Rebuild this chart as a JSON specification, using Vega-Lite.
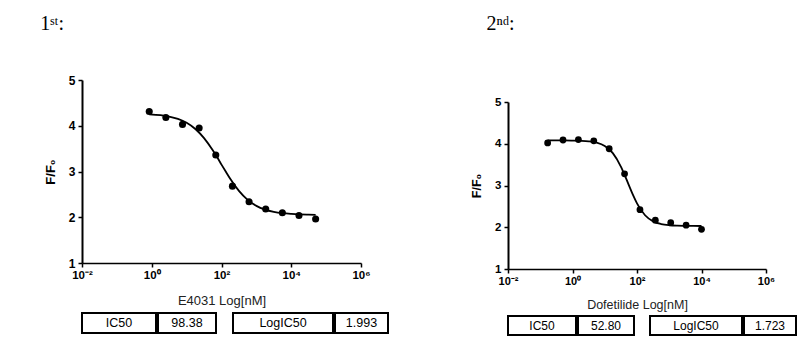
{
  "$schema": "https://vega.github.io/schema/vega-lite/v6.json",
  "padding": {"left": 40, "top": 14, "right": 0, "bottom": 0},
  "background": "white",
  "config": {
    "view": {"stroke": null},
    "font": "Liberation Sans",
    "axis": {
      "grid": false,
      "domainColor": "black",
      "tickColor": "black",
      "labelColor": "black",
      "titleColor": "#222222",
      "labelFont": "Liberation Sans",
      "titleFont": "Liberation Sans",
      "labelFontWeight": "bold",
      "tickSize": 4,
      "labelFlush": false,
      "labelOverlap": false
    }
  },
  "datasets": {
    "e4031_points": [
      {"conc": 0.8468, "ff0": 4.31}, {"conc": 2.540, "ff0": 4.18}, {"conc": 7.621, "ff0": 4.03},
      {"conc": 22.86, "ff0": 3.95}, {"conc": 68.59, "ff0": 3.36}, {"conc": 205.8, "ff0": 2.68},
      {"conc": 617.3, "ff0": 2.34}, {"conc": 1852, "ff0": 2.18}, {"conc": 5556, "ff0": 2.10},
      {"conc": 16667, "ff0": 2.04}, {"conc": 50000, "ff0": 1.96}
    ],
    "e4031_fit": [
      {"conc": 0.8468, "ff0": 4.25}, {"conc": 1.778, "ff0": 4.23}, {"conc": 3.162, "ff0": 4.20},
      {"conc": 5.623, "ff0": 4.15}, {"conc": 10, "ff0": 4.065}, {"conc": 17.78, "ff0": 3.93},
      {"conc": 31.62, "ff0": 3.73}, {"conc": 56.23, "ff0": 3.463}, {"conc": 74.99, "ff0": 3.31},
      {"conc": 100, "ff0": 3.151}, {"conc": 133.4, "ff0": 2.993}, {"conc": 177.8, "ff0": 2.841},
      {"conc": 316.2, "ff0": 2.577}, {"conc": 562.3, "ff0": 2.381}, {"conc": 1000, "ff0": 2.249},
      {"conc": 1778, "ff0": 2.166}, {"conc": 3162, "ff0": 2.117}, {"conc": 5623, "ff0": 2.088},
      {"conc": 10000, "ff0": 2.072}, {"conc": 17783, "ff0": 2.062}, {"conc": 31623, "ff0": 2.057},
      {"conc": 50000, "ff0": 2.054}
    ],
    "dof_points": [
      {"conc": 0.1694, "ff0": 4.02}, {"conc": 0.5081, "ff0": 4.09}, {"conc": 1.524, "ff0": 4.10},
      {"conc": 4.572, "ff0": 4.07}, {"conc": 13.72, "ff0": 3.88}, {"conc": 41.15, "ff0": 3.28},
      {"conc": 123.5, "ff0": 2.42}, {"conc": 370.4, "ff0": 2.17}, {"conc": 1111, "ff0": 2.11},
      {"conc": 3333, "ff0": 2.05}, {"conc": 10000, "ff0": 1.95}
    ],
    "dof_fit": [
      {"conc": 0.1698, "ff0": 4.08}, {"conc": 0.3162, "ff0": 4.079}, {"conc": 0.5623, "ff0": 4.079},
      {"conc": 1, "ff0": 4.076}, {"conc": 1.778, "ff0": 4.071}, {"conc": 3.162, "ff0": 4.058},
      {"conc": 5.623, "ff0": 4.025}, {"conc": 10, "ff0": 3.946}, {"conc": 17.78, "ff0": 3.775},
      {"conc": 31.62, "ff0": 3.454}, {"conc": 42.17, "ff0": 3.238}, {"conc": 56.23, "ff0": 3.004},
      {"conc": 74.99, "ff0": 2.775}, {"conc": 100, "ff0": 2.573}, {"conc": 177.8, "ff0": 2.287},
      {"conc": 316.2, "ff0": 2.141}, {"conc": 562.3, "ff0": 2.076}, {"conc": 1000, "ff0": 2.048},
      {"conc": 1778, "ff0": 2.037}, {"conc": 3162, "ff0": 2.033}, {"conc": 5623, "ff0": 2.031},
      {"conc": 10000, "ff0": 2.030}
    ],
    "ic50": [
      {"drug": "E4031", "param": "IC50", "value": "98.38"},
      {"drug": "E4031", "param": "LogIC50", "value": "1.993"},
      {"drug": "Dofetilide", "param": "IC50", "value": "52.80"},
      {"drug": "Dofetilide", "param": "LogIC50", "value": "1.723"}
    ]
  },
  "hconcat": [
    {
      "title": {"text": "1ˢᵗ:", "anchor": "start", "font": "Liberation Serif", "fontSize": 20, "fontWeight": "normal", "color": "black", "offset": 40, "dx": -4},
      "vconcat": [
        {
          "width": 279,
          "height": 183,
          "layer": [
            {
              "data": {"name": "e4031_fit"},
              "mark": {"type": "line", "color": "black", "strokeWidth": 1.8, "interpolate": "monotone"},
              "encoding": {
                "x": {"field": "conc", "type": "quantitative", "scale": {"type": "log", "domain": [0.01, 1000000]},
                  "axis": {"title": "E4031 Log[nM]", "values": [0.01, 1, 100, 10000, 1000000],
                    "labelExpr": "'10' + (datum.value < 0.1 ? '⁻²' : datum.value < 10 ? '⁰' : datum.value < 1000 ? '²' : datum.value < 100000 ? '⁴' : '⁶')",
                    "labelFontSize": 11.5, "titleFontSize": 13, "titleFontWeight": "normal", "domainWidth": 1.5, "tickWidth": 1.5, "labelPadding": 2, "titlePadding": 14}},
                "y": {"field": "ff0", "type": "quantitative", "scale": {"domain": [1, 5]},
                  "axis": {"title": "F/F₀", "values": [1, 2, 3, 4, 5], "labelFontSize": 12, "titleFontSize": 13, "titleFontWeight": "bold", "titleColor": "black", "domainWidth": 2, "tickWidth": 1.5, "labelPadding": 3, "titlePadding": 11}}
              }
            },
            {
              "data": {"name": "e4031_points"},
              "mark": {"type": "circle", "color": "black", "size": 50, "opacity": 1},
              "encoding": {
                "x": {"field": "conc", "type": "quantitative"},
                "y": {"field": "ff0", "type": "quantitative"}
              }
            }
          ]
        },
        {
          "hconcat": [
            {
              "hconcat": [
                {"width": 74, "height": 20, "view": {"stroke": "black", "strokeWidth": 2}, "data": {"name": "ic50"},
                 "transform": [{"filter": "datum.drug == 'E4031' && datum.param == 'IC50'"}],
                 "mark": {"type": "text", "fontSize": 12.5, "color": "black"}, "encoding": {"text": {"field": "param"}}},
                {"width": 58, "height": 20, "view": {"stroke": "black", "strokeWidth": 2}, "data": {"name": "ic50"},
                 "transform": [{"filter": "datum.drug == 'E4031' && datum.param == 'IC50'"}],
                 "mark": {"type": "text", "fontSize": 12.5, "color": "black"}, "encoding": {"text": {"field": "value"}}}
              ],
              "spacing": 0
            },
            {
              "hconcat": [
                {"width": 100, "height": 20, "view": {"stroke": "black", "strokeWidth": 2}, "data": {"name": "ic50"},
                 "transform": [{"filter": "datum.drug == 'E4031' && datum.param == 'LogIC50'"}],
                 "mark": {"type": "text", "fontSize": 12.5, "color": "black"}, "encoding": {"text": {"field": "param"}}},
                {"width": 53, "height": 20, "view": {"stroke": "black", "strokeWidth": 2}, "data": {"name": "ic50"},
                 "transform": [{"filter": "datum.drug == 'E4031' && datum.param == 'LogIC50'"}],
                 "mark": {"type": "text", "fontSize": 12.5, "color": "black"}, "encoding": {"text": {"field": "value"}}}
              ],
              "spacing": 0
            }
          ],
          "spacing": 15
        }
      ],
      "bounds": "flush",
      "spacing": 50
    },
    {
      "title": {"text": "2ⁿᵈ:", "anchor": "start", "font": "Liberation Serif", "fontSize": 20, "fontWeight": "normal", "color": "black", "offset": 46, "dx": 16},
      "vconcat": [
        {
          "width": 20,
          "height": 22,
          "data": {"values": []},
          "mark": {"type": "point", "opacity": 0},
          "encoding": {}
        },
        {
          "vconcat": [
            {
              "width": 258,
              "height": 167,
              "layer": [
                {
                  "data": {"name": "dof_fit"},
                  "mark": {"type": "line", "color": "black", "strokeWidth": 1.8, "interpolate": "monotone"},
                  "encoding": {
                    "x": {"field": "conc", "type": "quantitative", "scale": {"type": "log", "domain": [0.01, 1000000]},
                      "axis": {"title": "Dofetilide Log[nM]", "values": [0.01, 1, 100, 10000, 1000000],
                        "labelExpr": "'10' + (datum.value < 0.1 ? '⁻²' : datum.value < 10 ? '⁰' : datum.value < 1000 ? '²' : datum.value < 100000 ? '⁴' : '⁶')",
                        "labelFontSize": 11, "titleFontSize": 12.5, "titleFontWeight": "normal", "domainWidth": 1.5, "tickWidth": 1.5, "labelPadding": 2, "titlePadding": 12}},
                    "y": {"field": "ff0", "type": "quantitative", "scale": {"domain": [1, 5]},
                      "axis": {"title": "F/F₀", "values": [1, 2, 3, 4, 5], "labelFontSize": 11.5, "titleFontSize": 12.5, "titleFontWeight": "bold", "titleColor": "black", "domainWidth": 2, "tickWidth": 1.5, "labelPadding": 3, "titlePadding": 11}}
                  }
                },
                {
                  "data": {"name": "dof_points"},
                  "mark": {"type": "circle", "color": "black", "size": 46, "opacity": 1},
                  "encoding": {
                    "x": {"field": "conc", "type": "quantitative"},
                    "y": {"field": "ff0", "type": "quantitative"}
                  }
                }
              ]
            },
            {
              "hconcat": [
                {
                  "hconcat": [
                    {"width": 68, "height": 19, "view": {"stroke": "black", "strokeWidth": 2}, "data": {"name": "ic50"},
                     "transform": [{"filter": "datum.drug == 'Dofetilide' && datum.param == 'IC50'"}],
                     "mark": {"type": "text", "fontSize": 12, "color": "black"}, "encoding": {"text": {"field": "param"}}},
                    {"width": 56, "height": 19, "view": {"stroke": "black", "strokeWidth": 2}, "data": {"name": "ic50"},
                     "transform": [{"filter": "datum.drug == 'Dofetilide' && datum.param == 'IC50'"}],
                     "mark": {"type": "text", "fontSize": 12, "color": "black"}, "encoding": {"text": {"field": "value"}}}
                  ],
                  "spacing": 0
                },
                {
                  "hconcat": [
                    {"width": 92, "height": 19, "view": {"stroke": "black", "strokeWidth": 2}, "data": {"name": "ic50"},
                     "transform": [{"filter": "datum.drug == 'Dofetilide' && datum.param == 'LogIC50'"}],
                     "mark": {"type": "text", "fontSize": 12, "color": "black"}, "encoding": {"text": {"field": "param"}}},
                    {"width": 52, "height": 19, "view": {"stroke": "black", "strokeWidth": 2}, "data": {"name": "ic50"},
                     "transform": [{"filter": "datum.drug == 'Dofetilide' && datum.param == 'LogIC50'"}],
                     "mark": {"type": "text", "fontSize": 12, "color": "black"}, "encoding": {"text": {"field": "value"}}}
                  ],
                  "spacing": 0
                }
              ],
              "spacing": 14
            }
          ],
          "bounds": "flush",
          "spacing": 47
        }
      ],
      "bounds": "flush",
      "spacing": 0
    }
  ],
  "spacing": 81
}
